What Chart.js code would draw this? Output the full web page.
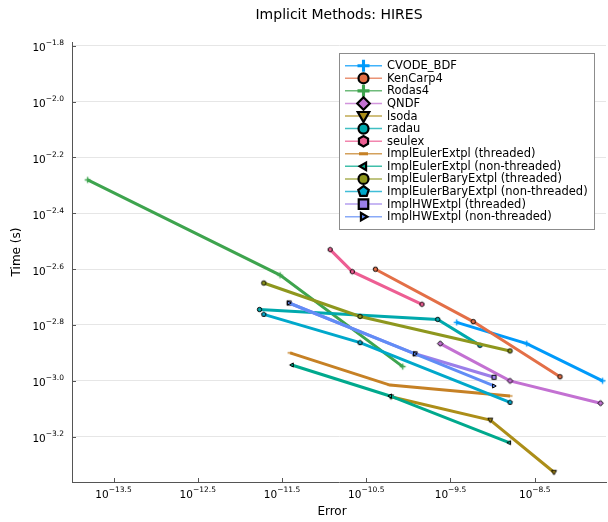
<!DOCTYPE html>
<html>
<head>
<meta charset="utf-8">
<script src="https://cdn.jsdelivr.net/npm/chart.js@4.4.0/dist/chart.umd.min.js"></script>
<style>
  html, body { margin: 0; padding: 0; background: #fff; }
  #wrap { width: 608px; height: 522px; position: relative; }
</style>
</head>
<body>
<div id="wrap"><canvas id="chart" width="608" height="522"></canvas></div>
<script>
// Work-precision data for the HIRES problem: final error vs. wall time (s)
const methodNames = [
  'CVODE_BDF', 'KenCarp4', 'Rodas4', 'QNDF', 'lsoda', 'radau', 'seulex',
  'ImplEulerExtpl (threaded)', 'ImplEulerExtpl (non-threaded)',
  'ImplEulerBaryExtpl (threaded)', 'ImplEulerBaryExtpl (non-threaded)',
  'ImplHWExtpl (threaded)', 'ImplHWExtpl (non-threaded)'
];

const errCVODE_BDF  = [3.75e-10, 2.54e-9, 2.02e-8];
const timeCVODE_BDF = [1.62e-3, 1.36e-3, 1.00e-3];

const errKenCarp4  = [4.06e-11, 5.89e-10, 6.30e-9];
const timeKenCarp4 = [2.51e-3, 1.63e-3, 1.035e-3];

const errRodas4  = [1.56e-14, 3.00e-12, 8.57e-11];
const timeRodas4 = [5.24e-3, 2.39e-3, 1.125e-3];

const errQNDF  = [2.39e-10, 1.61e-9, 1.91e-8];
const timeQNDF = [1.36e-3, 1.00e-3, 8.32e-4];

const errLsoda  = [6.22e-11, 9.38e-10, 5.35e-9];
const timeLsoda = [8.77e-4, 7.24e-4, 4.71e-4];

const errRadau  = [1.71e-12, 2.23e-10, 7.08e-10];
const timeRadau = [1.80e-3, 1.66e-3, 1.34e-3];

const errSeulex  = [1.18e-11, 2.16e-11, 1.45e-10];
const timeSeulex = [2.95e-3, 2.46e-3, 1.88e-3];

const errEulerThreaded  = [3.94e-12, 6.05e-11, 1.61e-9];
const timeEulerThreaded = [1.26e-3, 9.66e-4, 8.83e-4];

const errEulerSerial  = [4.13e-12, 6.05e-11, 1.57e-9];
const timeEulerSerial = [1.14e-3, 8.83e-4, 6.01e-4];

const errBaryThreaded  = [1.92e-12, 2.67e-11, 1.61e-9];
const timeBaryThreaded = [2.24e-3, 1.70e-3, 1.28e-3];

const errBarySerial  = [1.92e-12, 2.67e-11, 1.61e-9];
const timeBarySerial = [1.73e-3, 1.37e-3, 8.38e-4];

const errHWThreaded  = [3.84e-12, 1.20e-10, 1.04e-9];
const timeHWThreaded = [1.90e-3, 1.25e-3, 1.03e-3];

const errHWSerial  = [3.84e-12, 1.20e-10, 1.04e-9];
const timeHWSerial = [1.90e-3, 1.25e-3, 9.59e-4];

// Tick positions, as powers of ten
const xTickExps = [-13.5, -12.5, -11.5, -10.5, -9.5, -8.5];
const yTickExps = [-1.8, -2.0, -2.2, -2.4, -2.6, -2.8, -3.0, -3.2];
const xRangeExps = [-13.993, -7.654];
const yRangeExps = [-3.362, -1.787];

const errSets  = [errCVODE_BDF, errKenCarp4, errRodas4, errQNDF, errLsoda, errRadau, errSeulex,
                  errEulerThreaded, errEulerSerial, errBaryThreaded, errBarySerial, errHWThreaded, errHWSerial];
const timeSets = [timeCVODE_BDF, timeKenCarp4, timeRodas4, timeQNDF, timeLsoda, timeRadau, timeSeulex,
                  timeEulerThreaded, timeEulerSerial, timeBaryThreaded, timeBarySerial, timeHWThreaded, timeHWSerial];

// Series styling
const colors = ['#009AFA', '#E36F47', '#3EA44E', '#C371D2', '#AC8E18', '#00A9AD', '#ED5E93',
                '#C68125', '#00A98D', '#8E971E', '#00A8CB', '#9B7FE9', '#618DF6'];
const shapes = ['cross', 'circle', 'cross', 'diamond', 'dtriangle', 'circle', 'hexagon',
                'hline', 'ltriangle', 'circle', 'pentagon', 'rect', 'rtriangle'];

const FONT = '"DejaVu Sans", "Liberation Sans", sans-serif';

function shapePath(ctx, shape, x, y, r) {
  ctx.beginPath();
  switch (shape) {
    case 'circle':
      ctx.arc(x, y, r, 0, Math.PI * 2);
      break;
    case 'diamond':
      ctx.moveTo(x, y - r * 1.25); ctx.lineTo(x + r * 1.25, y);
      ctx.lineTo(x, y + r * 1.25); ctx.lineTo(x - r * 1.25, y);
      ctx.closePath();
      break;
    case 'dtriangle':
      ctx.moveTo(x - r * 1.15, y - r * 0.8); ctx.lineTo(x + r * 1.15, y - r * 0.8);
      ctx.lineTo(x, y + r * 1.2); ctx.closePath();
      break;
    case 'ltriangle':
      ctx.moveTo(x + r * 0.8, y - r * 1.15); ctx.lineTo(x + r * 0.8, y + r * 1.15);
      ctx.lineTo(x - r * 1.2, y); ctx.closePath();
      break;
    case 'rtriangle':
      ctx.moveTo(x - r * 0.8, y - r * 1.15); ctx.lineTo(x - r * 0.8, y + r * 1.15);
      ctx.lineTo(x + r * 1.2, y); ctx.closePath();
      break;
    case 'rect':
      ctx.rect(x - r * 0.95, y - r * 0.95, r * 1.9, r * 1.9);
      break;
    case 'hexagon':
      for (let k = 0; k < 6; k++) {
        const a = Math.PI / 6 + k * Math.PI / 3;
        const px = x + r * 1.05 * Math.cos(a), py = y + r * 1.05 * Math.sin(a);
        k ? ctx.lineTo(px, py) : ctx.moveTo(px, py);
      }
      ctx.closePath();
      break;
    case 'pentagon':
      for (let k = 0; k < 5; k++) {
        const a = -Math.PI / 2 + k * 2 * Math.PI / 5;
        const px = x + r * 1.1 * Math.cos(a), py = y + r * 1.1 * Math.sin(a);
        k ? ctx.lineTo(px, py) : ctx.moveTo(px, py);
      }
      ctx.closePath();
      break;
  }
}

function drawMarker(ctx, shape, x, y, r, fill, lw) {
  ctx.save();
  if (shape === 'cross') {
    ctx.strokeStyle = fill;
    ctx.lineWidth = lw * 1.4;
    ctx.beginPath();
    ctx.moveTo(x - r * 1.2, y); ctx.lineTo(x + r * 1.2, y);
    ctx.moveTo(x, y - r * 1.2); ctx.lineTo(x, y + r * 1.2);
    ctx.stroke();
  } else if (shape === 'hline') {
    ctx.strokeStyle = fill;
    ctx.lineWidth = lw * 1.4;
    ctx.beginPath();
    ctx.moveTo(x - r * 1.0, y); ctx.lineTo(x + r * 1.0, y);
    ctx.stroke();
  } else {
    shapePath(ctx, shape, x, y, r);
    ctx.fillStyle = fill;
    ctx.fill();
    ctx.lineWidth = lw;
    ctx.strokeStyle = '#000';
    ctx.stroke();
  }
  ctx.restore();
}

// Small canvases used as Chart.js point styles
function markerImage(shape, r, fill, lw) {
  const s = Math.ceil((r * 1.4 + lw) * 2) + 2;
  const c = document.createElement('canvas');
  c.width = s; c.height = s;
  drawMarker(c.getContext('2d'), shape, s / 2, s / 2, r, fill, lw);
  return c;
}

function plotMarkerSize(shape) {
  if (shape === 'ltriangle' || shape === 'rtriangle') return 1.8;
  if (shape === 'cross' || shape === 'hline') return 2.4;
  return 2.2;
}

const datasets = methodNames.map((name, i) => ({
  label: name,
  data: errSets[i].map((e, j) => ({ x: e, y: timeSets[i][j] })),
  borderColor: colors[i],
  backgroundColor: colors[i],
  borderWidth: 3,
  pointStyle: markerImage(shapes[i], plotMarkerSize(shapes[i]), colors[i], 1),
  pointRadius: 3,
  pointHoverRadius: 3,
  tension: 0,
  fill: false,
  order: methodNames.length - i
}));

function powLabel(ctx, exp, x, y, align) {
  const base = '10';
  const sup = exp.toFixed(1).replace('-', '\u2212');
  ctx.font = '10.5px ' + FONT;
  const wb = ctx.measureText(base).width;
  ctx.font = '7.5px ' + FONT;
  const ws = ctx.measureText(sup).width;
  const total = wb + ws;
  let left = align === 'center' ? x - total / 2 : x - total;
  ctx.fillStyle = '#000';
  ctx.textAlign = 'left';
  ctx.textBaseline = 'alphabetic';
  ctx.font = '10.5px ' + FONT;
  ctx.fillText(base, left, y);
  ctx.font = '7.5px ' + FONT;
  ctx.fillText(sup, left + wb, y - 6);
}

const decorations = {
  id: 'decorations',
  afterDraw(chart) {
    const ctx = chart.ctx;
    const area = chart.chartArea;
    const xs = chart.scales.x, ys = chart.scales.y;
    ctx.save();

    // inward tick marks
    ctx.strokeStyle = '#555';
    ctx.lineWidth = 1;
    ctx.beginPath();
    xTickExps.forEach(e => {
      const px = Math.round(xs.getPixelForValue(Math.pow(10, e))) + 0.5;
      ctx.moveTo(px, area.bottom); ctx.lineTo(px, area.bottom - 4);
    });
    yTickExps.forEach(e => {
      const py = Math.round(ys.getPixelForValue(Math.pow(10, e))) + 0.5;
      ctx.moveTo(area.left, py); ctx.lineTo(area.left + 4, py);
    });
    ctx.stroke();

    // tick labels
    xTickExps.forEach(e => {
      powLabel(ctx, e, xs.getPixelForValue(Math.pow(10, e)), area.bottom + 15.5, 'center');
    });
    yTickExps.forEach(e => {
      powLabel(ctx, e, 64, ys.getPixelForValue(Math.pow(10, e)) + 5.5, 'right');
    });

    // title and axis labels
    ctx.fillStyle = '#000';
    ctx.textAlign = 'center';
    ctx.textBaseline = 'middle';
    ctx.font = '14px ' + FONT;
    ctx.fillText('Implicit Methods: HIRES', (area.left + area.right) / 2, 15);
    ctx.font = '12px ' + FONT;
    ctx.fillText('Error', 332, 512);
    ctx.save();
    ctx.translate(17, 252);
    ctx.rotate(-Math.PI / 2);
    ctx.fillText('Time (s)', 0, 0);
    ctx.restore();

    // legend
    const lx = 339.5, ly = 53.5, lw = 255, lh = 176;
    ctx.fillStyle = '#fff';
    ctx.fillRect(lx, ly, lw, lh);
    ctx.strokeStyle = '#8c8c8c';
    ctx.lineWidth = 1;
    ctx.strokeRect(lx, ly, lw, lh);
    methodNames.forEach((name, i) => {
      const y = 65.7 + i * 12.58;
      ctx.strokeStyle = colors[i];
      ctx.globalAlpha = 0.75;
      ctx.lineWidth = 1.5;
      ctx.beginPath();
      ctx.moveTo(345, y); ctx.lineTo(382, y);
      ctx.stroke();
      ctx.globalAlpha = 1;
      let r = 5;
      if (shapes[i] === 'ltriangle' || shapes[i] === 'rtriangle') r = 3.2;
      if (shapes[i] === 'hline') r = 4.5;
      drawMarker(ctx, shapes[i], 363.5, y, r, colors[i], 2.2);
      ctx.fillStyle = '#000';
      ctx.textAlign = 'left';
      ctx.textBaseline = 'middle';
      ctx.font = '11.5px ' + FONT;
      ctx.fillText(name, 387, y + 0.5);
    });
    ctx.restore();
  }
};

new Chart(document.getElementById('chart'), {
  type: 'line',
  data: { datasets },
  options: {
    responsive: false,
    animation: false,
    devicePixelRatio: 1,
    layout: { autoPadding: false, padding: { top: 42, right: 2, left: 0, bottom: 0 } },
    plugins: { legend: { display: false }, tooltip: { enabled: false }, title: { display: false } },
    scales: {
      x: {
        type: 'logarithmic',
        bounds: 'data',
        min: Math.pow(10, xRangeExps[0]),
        max: Math.pow(10, xRangeExps[1]),
        afterBuildTicks: s => { s.ticks = xTickExps.map(e => ({ value: Math.pow(10, e) })); },
        afterFit: s => { s.height = 40; },
        ticks: { display: false },
        grid: { display: false, drawTicks: false },
        border: { display: true, color: '#555', width: 1 }
      },
      y: {
        type: 'logarithmic',
        bounds: 'data',
        min: Math.pow(10, yRangeExps[0]),
        max: Math.pow(10, yRangeExps[1]),
        afterBuildTicks: s => { s.ticks = yTickExps.map(e => ({ value: Math.pow(10, e) })); },
        afterFit: s => { s.width = 72; },
        ticks: { display: false },
        grid: { display: true, color: '#e6e6e6', lineWidth: 1, drawTicks: false },
        border: { display: true, color: '#555', width: 1 }
      }
    }
  },
  plugins: [decorations]
});
</script>
</body>
</html>
